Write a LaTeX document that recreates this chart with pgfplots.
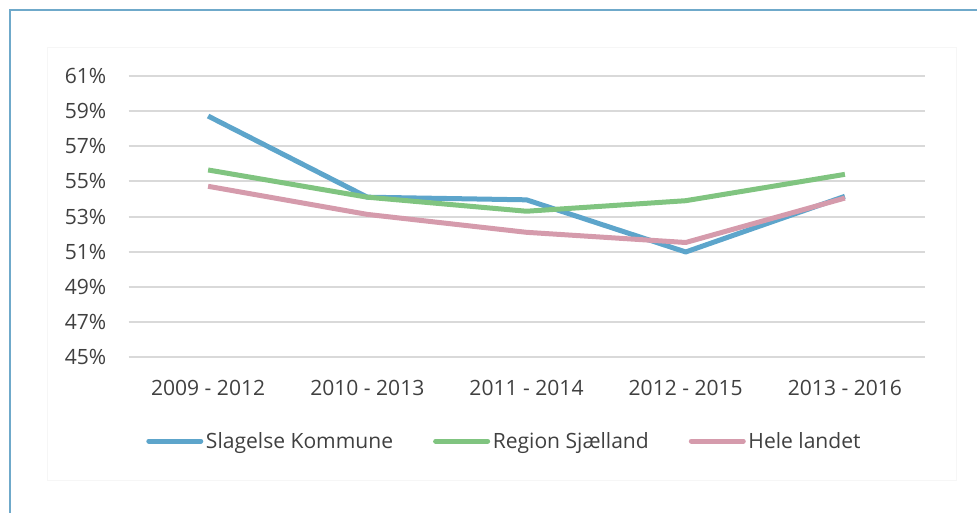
\documentclass[border=0pt]{standalone}
\usepackage{fontspec}
\setmainfont{Open Sans}
\usepackage{pgfplots}
\pgfplotsset{compat=1.18}

\definecolor{cBlue}{HTML}{5DA5CB}
\definecolor{cGreen}{HTML}{80C480}
\definecolor{cPink}{HTML}{D59BAC}
\definecolor{cGrid}{HTML}{D9D9D9}
\definecolor{cText}{HTML}{404040}
\definecolor{cFrame}{HTML}{6FA9CA}

\begin{document}
\begin{tikzpicture}[x=0.75pt,y=0.75pt]
\useasboundingbox (0,0) rectangle (977,512);
% outer frame, cut off on the right and at the bottom
\draw[cFrame, line width=1.5pt] (10,-20) -- (10,502) -- (1000,502);
\draw[gray!7, line width=0.75pt] (47,32) rectangle (956,465);

\begin{axis}[
    at={(96.375pt,116.25pt)}, anchor=south west,
    scale only axis,
    width=597pt, height=210.75pt,
    xmin=-0.5, xmax=4.5,
    ymin=45, ymax=61,
    xtick={0,1,2,3,4},
    xticklabels={2009 - 2012, 2010 - 2013, 2011 - 2014, 2012 - 2015, 2013 - 2016},
    ytick={45,47,...,61},
    yticklabel={\pgfmathprintnumber{\tick}\%},
    /pgf/number format/assume math mode=true,
    major tick length=0pt,
    axis line style={draw=none},
    ymajorgrids,
    grid style={cGrid, line width=1.5pt},
    tick label style={font=\fontsize{15.8}{18}\selectfont, text=cText},
    yticklabel style={anchor=east, inner sep=0pt, xshift=-16.5pt},
    xticklabel style={anchor=center, inner sep=0pt, yshift=-23pt},
    clip=false,
    legend columns=3,
    legend style={draw=none, fill=none, at={(0.017,-0.299)}, anchor=west,
        font=\fontsize{15.8}{18}\selectfont, text=cText,
        /tikz/every even column/.append style={column sep=28pt},
        /tikz/every odd column/.append style={inner sep=0pt}},
    legend image code/.code={\draw[#1, line width=3.75pt, line cap=round] (0pt,0pt) -- (39pt,0pt);},
    every axis plot/.append style={line width=3.75pt, line join=round},
]
\addplot[cBlue, mark=none] coordinates {(0,58.72) (1,54.1) (2,53.95) (3,50.98) (4,54.15)};
\addlegendentry{Slagelse Kommune}
\addplot[cGreen, mark=none] coordinates {(0,55.65) (1,54.1) (2,53.3) (3,53.9) (4,55.4)};
\addlegendentry{Region Sjælland}
\addplot[cPink, mark=none] coordinates {(0,54.72) (1,53.12) (2,52.1) (3,51.52) (4,54.05)};
\addlegendentry{Hele landet}
\end{axis}
\end{tikzpicture}
\end{document}
